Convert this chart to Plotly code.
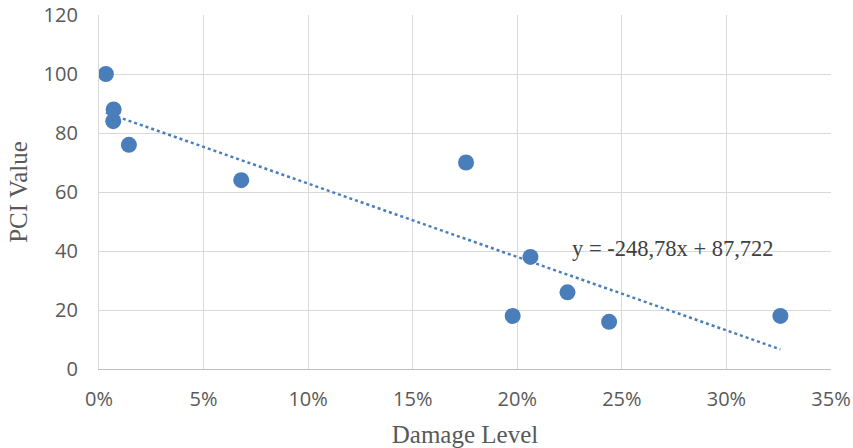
import numpy as np
import plotly.graph_objects as go

damage_level = [0.0033, 0.0070, 0.0068, 0.0143, 0.0680, 0.1755, 0.2063, 0.1978, 0.2240, 0.2439, 0.3258]
pci_value = [100, 88, 84, 76, 64, 70, 38, 18, 26, 16, 18]
trend_slope = -248.78
trend_intercept = 87.722
equation_text = "y = -248,78x + 87,722"
x_ticks = [0, 0.05, 0.10, 0.15, 0.20, 0.25, 0.30, 0.35]
y_ticks = [0, 20, 40, 60, 80, 100, 120]

blue = "#4a7ebb"
grid = "#d9d9d9"
tick_font = dict(family="Open Sans", size=20, color="#595959")
title_font = dict(family="Liberation Serif", size=25, color="#595959")

tx = np.array([min(damage_level), max(damage_level)])
ty = trend_slope * tx + trend_intercept

fig = go.Figure()
fig.add_trace(go.Scatter(x=tx, y=ty, mode="lines",
                         line=dict(color=blue, width=2.5, dash="dot"),
                         hoverinfo="skip", showlegend=False))
fig.add_trace(go.Scatter(x=damage_level, y=pci_value, mode="markers",
                         marker=dict(color=blue, size=16, line=dict(width=0)),
                         showlegend=False))

fig.add_annotation(x=0.2745, y=41, text=equation_text, showarrow=False,
                   font=dict(family="Liberation Serif", size=22.5, color="#404040"))

fig.update_layout(
    width=853, height=448,
    margin=dict(l=99, r=22, t=15, b=79),
    paper_bgcolor="white", plot_bgcolor="white",
    xaxis=dict(range=[0, 0.35], tickvals=x_ticks, tickformat=".0%",
               automargin=False, ticklabeloverflow="allow",
               showgrid=True, gridcolor=grid, gridwidth=1.3,
               showline=True, linecolor="#bfbfbf", linewidth=1.3,
               zeroline=False, ticks="", tickfont=tick_font,
               ticklabelstandoff=12,
               title=dict(text="Damage Level", font=title_font, standoff=14)),
    yaxis=dict(range=[0, 120], tickvals=y_ticks,
               automargin=False, ticklabeloverflow="allow",
               showgrid=True, gridcolor=grid, gridwidth=1.3,
               showline=True, linecolor=grid, linewidth=1.3,
               zeroline=False, ticks="", tickfont=tick_font,
               ticklabelstandoff=16,
               title=dict(text="PCI Value", font=title_font, standoff=8)),
)

fig.write_html("out.html",
               config={"displayModeBar": False},
               post_script="document.body.style.margin='0';document.body.style.overflow='hidden';")
